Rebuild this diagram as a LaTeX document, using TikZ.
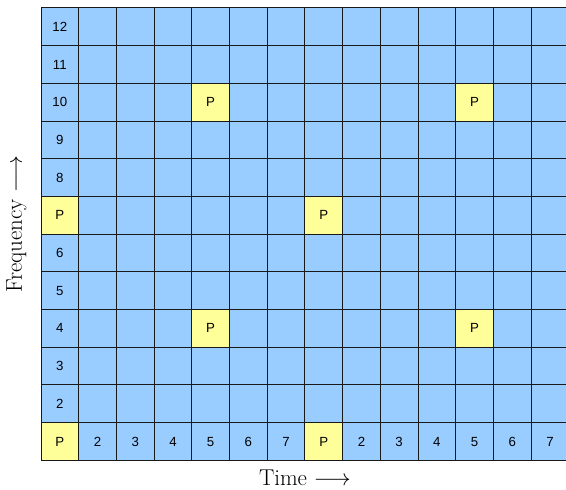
\documentclass[tikz,border=0pt]{standalone}
\usepackage{fontspec}
\newfontfamily\cellfont{Liberation Sans}
\usetikzlibrary{math}
\definecolor{cellblue}{RGB}{153,204,255}
\definecolor{pilotyellow}{RGB}{255,255,153}
\tikzset{
  cell label/.style={font=\cellfont\fontsize{10}{12}\selectfont, inner sep=0pt},
  axis label/.style={font=\LARGE, inner sep=0pt}
}

\begin{document}
\begin{tikzpicture}
\tikzmath{
\T=14;
\F=12;
}
\useasboundingbox (-1.088,-0.77) rectangle (13.926,12.212);
\clip (-1.088,-0.77) rectangle (13.926,12.212);
\fill[cellblue] (0,0) rectangle (\T,\F);
% pilot cells
\foreach \c/\r in {0/0,0/6,4/9,4/3,7/0,7/6,11/9,11/3}
  \fill[pilotyellow] (\c,\r) rectangle ++(1,1);
\draw[line width=0.75pt, black!90] (0,0) grid (\T,\F);

% bottom row and left column
\foreach \lbl [count=\c from 0] in {P,2,3,4,5,6,7,P,2,3,4,5,6,7}
  \node[cell label] (time-\c) at (\c+0.5,0.5) {\lbl};
\foreach \lbl [count=\r from 2] in {2,3,4,5,6,P,8,9,10,11,12}
  \node[cell label] (freq-\r) at (0.5,\r-0.5) {\lbl};
\foreach \c/\r in {4/9,4/3,7/6,11/9,11/3}
  \node[cell label] (pilot-\c-\r) at (\c+0.5,\r+0.5) {P};

\node[axis label] (time) at (\T/2,-0.46) {Time $\longrightarrow$};
\node[axis label, rotate=90] (freq) at (-0.65,\F/2+0.27) {Frequency $\longrightarrow$};
\end{tikzpicture}
\end{document}
